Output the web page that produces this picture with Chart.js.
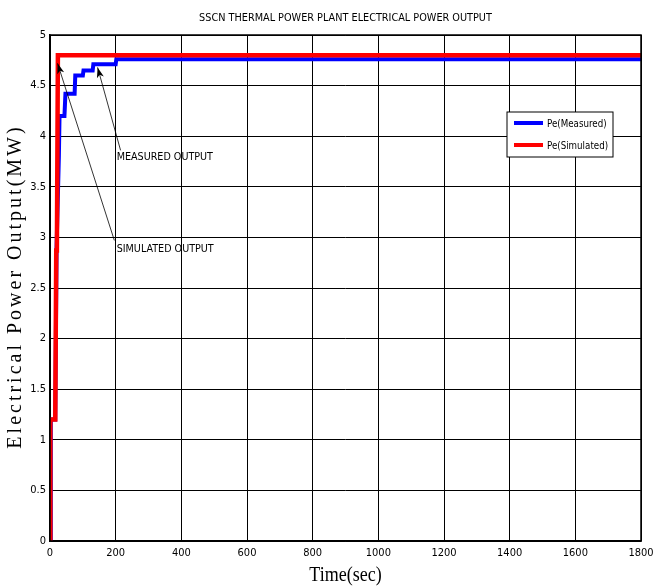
<!DOCTYPE html>
<html>
<head>
<meta charset="utf-8">
<script src="https://cdn.jsdelivr.net/npm/chart.js@4.4.0/dist/chart.umd.min.js"></script>
<style>
  html, body { margin: 0; padding: 0; background: #fff; }
  #wrap { width: 656px; height: 588px; }
</style>
</head>
<body>
<div id="wrap"><canvas id="chart" width="656" height="588"></canvas></div>
<script>
// measured electrical power
const measuredTime  = [0, 2, 3, 16, 20, 27, 29, 44, 47, 75, 77, 100, 102, 130, 132, 200, 202, 1800];
const measuredValue = [0, 0, 1.2, 1.2, 2.9, 3.8, 4.2, 4.2, 4.42, 4.42, 4.6, 4.6, 4.65, 4.65, 4.71, 4.71, 4.76, 4.76];
// simulated electrical power
const simulatedTime  = [0, 1, 16, 19, 21, 24, 1800];
const simulatedValue = [0, 1.2, 1.2, 2.87, 2.9, 4.8, 4.8];

const seriesNames = ['Pe(Measured)', 'Pe(Simulated)'];
const xTicks = [0, 200, 400, 600, 800, 1000, 1200, 1400, 1600, 1800];
const yTicks = [0, 0.5, 1, 1.5, 2, 2.5, 3, 3.5, 4, 4.5, 5];

const chartTitle = 'SSCN THERMAL POWER PLANT ELECTRICAL POWER OUTPUT';
const xTitle = 'Time(sec)';
const yTitle = 'Electrical Power Output(MW)';

// arrows: text position, arrow tail, arrow head (data units)
const notes = [
  { text: 'MEASURED OUTPUT',  tx: 203, ty: 3.79, x0: 215, y0: 3.86, x1: 145, y1: 4.68 },
  { text: 'SIMULATED OUTPUT', tx: 203, ty: 2.88, x0: 196, y0: 2.97, x1: 23,  y1: 4.72 }
];

const narrow = "'Liberation Sans Narrow', 'DejaVu Sans Condensed', Arial, sans-serif";
const serif = "'Liberation Serif', 'Times New Roman', serif";

const toPoints = (ts, vs) => ts.map((t, i) => ({ x: t, y: vs[i] }));

// text squeezed horizontally, like the narrow font of the original
function squeezed(ctx, text, x, y, k) {
  ctx.save();
  ctx.translate(x, y);
  ctx.scale(k, 1);
  ctx.fillText(text, 0, 0);
  ctx.restore();
}

const notesPlugin = {
  id: 'notes',
  afterDatasetsDraw(chart) {
    const { ctx, scales: { x, y } } = chart;
    ctx.save();
    ctx.strokeStyle = '#000';
    ctx.fillStyle = '#000';
    ctx.lineWidth = 0.8;
    notes.forEach(n => {
      const ax = x.getPixelForValue(n.x0), ay = y.getPixelForValue(n.y0);
      const bx = x.getPixelForValue(n.x1), by = y.getPixelForValue(n.y1);
      ctx.beginPath();
      ctx.moveTo(ax, ay);
      ctx.lineTo(bx, by);
      ctx.stroke();
      const ang = Math.atan2(by - ay, bx - ax);
      const len = 11, wid = 0.33;
      ctx.beginPath();
      ctx.moveTo(bx, by);
      ctx.lineTo(bx - len * Math.cos(ang - wid), by - len * Math.sin(ang - wid));
      ctx.lineTo(bx - len * 0.7 * Math.cos(ang), by - len * 0.7 * Math.sin(ang));
      ctx.lineTo(bx - len * Math.cos(ang + wid), by - len * Math.sin(ang + wid));
      ctx.closePath();
      ctx.fill();
      ctx.font = '11px ' + narrow;
      ctx.textBaseline = 'middle';
      ctx.textAlign = 'left';
      squeezed(ctx, n.text, x.getPixelForValue(n.tx), y.getPixelForValue(n.ty), 0.97);
    });
    // legend box inside plot
    const area = chart.chartArea;
    const bx = area.right - 134, by = area.top + 77, bw = 106, bh = 45;
    ctx.fillStyle = '#fff';
    ctx.fillRect(bx, by, bw, bh);
    ctx.lineWidth = 1;
    ctx.strokeStyle = '#000';
    ctx.strokeRect(bx, by, bw, bh);
    const cols = ['#0000ff', '#ff0000'];
    seriesNames.forEach((name, i) => {
      const ly = by + 11 + i * 22;
      ctx.strokeStyle = cols[i];
      ctx.lineWidth = 4;
      ctx.beginPath();
      ctx.moveTo(bx + 7, ly);
      ctx.lineTo(bx + 36, ly);
      ctx.stroke();
      ctx.fillStyle = '#000';
      ctx.font = '11px ' + narrow;
      ctx.textBaseline = 'middle';
      ctx.textAlign = 'left';
      squeezed(ctx, name, bx + 40, ly + 1, 0.88);
    });
    ctx.restore();
  }
};

// titles drawn by hand (spacing/squeeze like the original)
const titles = {
  id: 'titles',
  afterDraw(chart) {
    const { ctx, chartArea: a } = chart;
    const cx = (a.left + a.right) / 2;
    ctx.save();
    ctx.fillStyle = '#000';
    ctx.textAlign = 'center';
    ctx.textBaseline = 'middle';
    ctx.font = '11px ' + narrow;
    squeezed(ctx, chartTitle, cx, 18, 0.98);
    ctx.font = '20px ' + serif;
    squeezed(ctx, xTitle, cx, 576, 0.9);
    ctx.save();
    ctx.translate(16, (a.top + a.bottom) / 2);
    ctx.rotate(-Math.PI / 2);
    ctx.letterSpacing = '3px';
    ctx.fillText(yTitle, 1.5, 0);
    ctx.restore();
    // frame
    ctx.strokeStyle = '#000';
    ctx.lineWidth = 1.5;
    ctx.strokeRect(a.left, a.top, a.right - a.left, a.bottom - a.top);
    ctx.restore();
  }
};

new Chart(document.getElementById('chart'), {
  type: 'line',
  data: {
    datasets: [
      {
        label: seriesNames[0],
        data: toPoints(measuredTime, measuredValue),
        borderColor: '#0000ff',
        borderWidth: 4,
        pointRadius: 0,
        tension: 0,
        order: 2
      },
      {
        label: seriesNames[1],
        data: toPoints(simulatedTime, simulatedValue),
        borderColor: '#ff0000',
        borderWidth: 4.5,
        pointRadius: 0,
        tension: 0,
        order: 1
      }
    ]
  },
  options: {
    responsive: false,
    animation: false,
    layout: { padding: { left: 0, right: 15, top: 35, bottom: 0 } },
    plugins: {
      legend: { display: false },
      tooltip: { enabled: false },
      title: { display: false }
    },
    scales: {
      x: {
        type: 'linear',
        min: 0,
        max: 1800,
        afterBuildTicks: s => { s.ticks = xTicks.map(v => ({ value: v })); },
        afterFit: s => { s.height = 47; s.paddingRight = 0; s.paddingLeft = 0; },
        grid: { color: '#000', lineWidth: 1, drawTicks: false },
        border: { color: '#000', width: 1.5 },
        ticks: { color: '#000', font: { family: narrow, size: 11 }, padding: 6, maxRotation: 0,
                 callback: v => String(v) }
      },
      y: {
        type: 'linear',
        min: 0,
        max: 5,
        afterBuildTicks: s => { s.ticks = yTicks.map(v => ({ value: v })); },
        afterFit: s => { s.width = 50; },
        grid: { color: '#000', lineWidth: 1, drawTicks: false },
        border: { color: '#000', width: 1.5 },
        ticks: { color: '#000', font: { family: narrow, size: 11 }, padding: 4,
                 callback: v => String(v) }
      }
    }
  },
  plugins: [notesPlugin, titles]
});
</script>
</body>
</html>
